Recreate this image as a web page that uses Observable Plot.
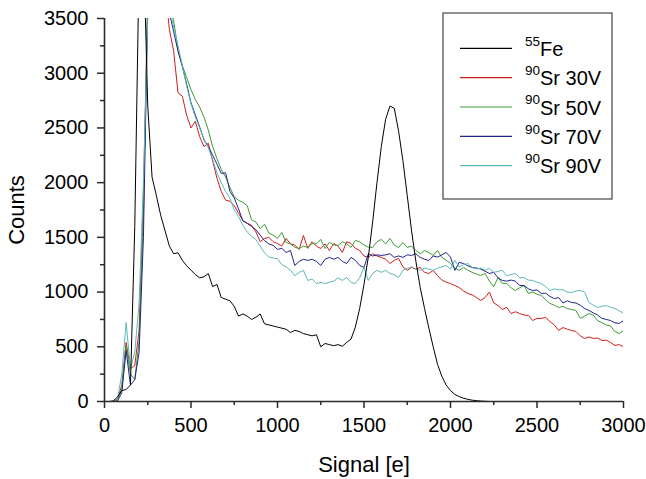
<!DOCTYPE html>
<html>
<head>
<meta charset="utf-8">
<script src="https://cdn.jsdelivr.net/npm/d3@7"></script>
<script src="https://cdn.jsdelivr.net/npm/@observablehq/plot@0.6"></script>
<style>
  html, body { margin: 0; padding: 0; background: #fff; }
  #chart { width: 646px; height: 479px; }
</style>
</head>
<body>
<div id="chart"></div>
<script>
// Signal bins [e], 25 e wide, 0 … 3000
const binWidth = 25;
const signal = d3.range(0, 3001, binWidth);

const seriesNames = ["55Fe", "90Sr 30V", "90Sr 50V", "90Sr 70V", "90Sr 90V"];
const isotopes = ["55", "90", "90", "90", "90"];
const labels = ["Fe", "Sr 30V", "Sr 50V", "Sr 70V", "Sr 90V"];
const colors = ["#000000", "#d01c1c", "#3d9b35", "#23238e", "#5cb8b8"];

const fe55 = [
  0,0,5,40,100,110,150,1600,4000,4200,
  2700,2050,1880,1700,1560,1420,1350,1360,1290,1240,
  1200,1160,1130,1140,1170,1050,1070,950,935,920,
  870,780,800,780,750,770,800,710,700,690,
  680,670,660,630,650,640,620,610,600,610,
  500,530,520,510,520,505,540,570,680,850,
  1070,1320,1640,2000,2330,2580,2700,2680,2470,2200,
  1880,1560,1280,1040,850,670,500,340,230,150,
  100,65,45,30,20,12,8,4,2,0,
  0,0,0,0,0,0,0,0,0,0,
  0,0,0,0,0,0,0,0,0,0,
  0,0,0,0,0,0,0,0,0,0,
  0
];
const sr30 = [
  0,0,0,20,150,540,300,330,650,1900,
  3700,4500,4500,4300,3800,3400,3200,2820,2790,2614,
  2500,2560,2420,2330,2360,2200,2040,1920,1840,1830,
  1790,1720,1654,1630,1610,1550,1460,1490,1500,1460,
  1444,1420,1490,1440,1430,1390,1517,1400,1460,1420,
  1398,1440,1380,1444,1420,1362,1460,1444,1400,1380,
  1330,1317,1350,1330,1317,1300,1261,1290,1307,1230,
  1198,1225,1210,1225,1180,1170,1198,1150,1110,1090,
  1078,1060,1042,1010,987,975,950,923,950,1000,
  900,877,840,860,804,820,804,790,786,740,
  760,759,768,730,700,649,676,660,649,640,
  600,576,590,576,580,558,560,540,512,520,
  500
];
const sr50 = [
  0,0,0,10,120,510,250,200,550,1700,
  3700,4500,4500,4300,3900,3600,3480,3210,3070,2960,
  2850,2760,2690,2600,2480,2330,2220,2120,2050,1956,
  1870,1838,1820,1790,1660,1640,1580,1620,1540,1520,
  1490,1545,1453,1440,1410,1398,1420,1407,1444,1440,
  1481,1398,1456,1430,1426,1460,1440,1408,1472,1460,
  1430,1410,1408,1460,1481,1440,1490,1430,1408,1453,
  1408,1420,1380,1350,1380,1360,1335,1380,1317,1290,
  1261,1220,1198,1225,1200,1180,1165,1152,1170,1100,
  1050,1133,1080,1078,1040,1014,1040,1060,987,1000,
  980,969,930,896,880,859,870,850,840,832,
  760,780,804,790,740,720,700,690,640,621,
  650
];
const sr70 = [
  0,0,0,5,80,466,150,200,450,1500,
  3600,4500,4500,4200,3800,3550,3380,3200,3060,2900,
  2730,2620,2510,2390,2330,2250,2170,2084,2090,1920,
  1860,1760,1650,1627,1600,1570,1520,1470,1440,1426,
  1390,1400,1362,1380,1243,1280,1300,1289,1300,1280,
  1243,1300,1317,1300,1317,1280,1261,1317,1290,1243,
  1225,1350,1330,1340,1335,1340,1350,1317,1330,1317,
  1340,1335,1350,1317,1300,1289,1330,1320,1340,1362,
  1320,1198,1271,1261,1240,1225,1220,1210,1190,1170,
  1180,1130,1106,1100,1110,1100,1060,1060,1030,1014,
  1020,987,990,960,940,950,900,920,905,900,
  880,850,832,810,790,760,750,740,720,713,
  740
];
const sr90 = [
  0,0,0,20,250,722,300,450,900,2000,
  3500,4500,4500,4200,3800,3600,3420,3250,3070,2880,
  2720,2600,2500,2400,2320,2210,2090,2000,1920,1856,
  1750,1690,1610,1550,1510,1480,1420,1360,1320,1310,
  1305,1250,1230,1198,1150,1180,1198,1106,1120,1078,
  1088,1078,1090,1100,1130,1106,1133,1088,1078,1130,
  1225,1106,1170,1198,1180,1198,1170,1160,1133,1200,
  1216,1230,1210,1198,1220,1210,1198,1220,1230,1243,
  1210,1289,1230,1250,1261,1225,1210,1220,1198,1216,
  1180,1190,1198,1150,1160,1170,1130,1133,1110,1106,
  1090,1078,1050,1014,1030,1020,1023,1000,996,1010,
  1014,1000,905,880,859,870,877,860,850,830,
  804
];

const xMajor = [0, 500, 1000, 1500, 2000, 2500, 3000];
const xMinor = [250, 750, 1250, 1750, 2250, 2750];
const yMajor = [0, 500, 1000, 1500, 2000, 2500, 3000, 3500];
const yMinor = [250, 750, 1250, 1750, 2250, 2750, 3250];

// Sr first, Fe drawn last (on top)
const seriesValues = [fe55, sr30, sr50, sr70, sr90];
const drawOrder = [1, 2, 3, 4, 0];
const rows = [];
for (const k of drawOrder) {
  seriesValues[k].forEach((c, i) => {
    rows.push({signal: signal[i], counts: c, series: seriesNames[k]});
  });
}

const W = 646, H = 479;
const axisColor = "#2a2a2a";
const font = "'Liberation Sans', Arial, sans-serif";

const plot = Plot.plot({
  width: W,
  height: H,
  marginLeft: 104,
  marginRight: 23,
  marginTop: 18,
  marginBottom: 78,
  style: {fontFamily: font, fontSize: "20px", background: "#fff", color: "#000", overflow: "visible"},
  x: {domain: [0, 3000]},
  y: {domain: [0, 3500]},
  color: {domain: seriesNames, range: colors},
  marks: [
    Plot.line(rows, {x: "signal", y: "counts", z: "series", stroke: "series", strokeWidth: 1, clip: true}),
    Plot.ruleX([0], {stroke: axisColor, strokeWidth: 1.6}),
    Plot.ruleY([0], {stroke: axisColor, strokeWidth: 1.6}),
    Plot.axisX(xMajor, {tickSize: 7, tickPadding: 9, fontSize: 20, tickFormat: d => String(d), stroke: axisColor, strokeWidth: 1.5, label: null}),
    Plot.axisX(xMinor, {tickSize: 4, text: null, stroke: axisColor, strokeWidth: 1.5, label: null}),
    Plot.axisY(yMajor, {tickSize: 7, tickPadding: 9, fontSize: 20, tickFormat: d => String(d), stroke: axisColor, strokeWidth: 1.5, label: null}),
    Plot.axisY(yMinor, {tickSize: 4, text: null, stroke: axisColor, strokeWidth: 1.5, label: null})
  ]
});

document.getElementById("chart").appendChild(plot);

const svg = d3.select(plot);

// axis titles
svg.append("text")
  .attr("x", 364).attr("y", 472)
  .attr("text-anchor", "middle")
  .attr("font-family", font).attr("font-size", 22).attr("fill", "#000")
  .text("Signal [e]");
svg.append("text")
  .attr("transform", "translate(24,210) rotate(-90)")
  .attr("text-anchor", "middle")
  .attr("font-family", font).attr("font-size", 22).attr("fill", "#000")
  .text("Counts");

// legend
const lg = svg.append("g").attr("text-anchor", "start");
lg.append("rect")
  .attr("x", 443).attr("y", 13).attr("width", 169).attr("height", 186)
  .attr("fill", "#fff").attr("stroke", "#444").attr("stroke-width", 1.2);
seriesNames.forEach((name, i) => {
  const yl = 48.3 + 29.35 * i;
  lg.append("line")
    .attr("x1", 460).attr("x2", 512).attr("y1", yl).attr("y2", yl)
    .attr("stroke", colors[i]).attr("stroke-width", 1.2);
  const t = lg.append("text")
    .attr("x", 525).attr("y", 56 + 29.35 * i)
    .attr("text-anchor", "start")
    .attr("font-family", font).attr("fill", "#000");
  t.append("tspan").attr("font-size", 13.5).attr("dy", -10.5).text(isotopes[i]);
  t.append("tspan").attr("font-size", 20).attr("dy", 10.5).text(labels[i]);
});
</script>
</body>
</html>
